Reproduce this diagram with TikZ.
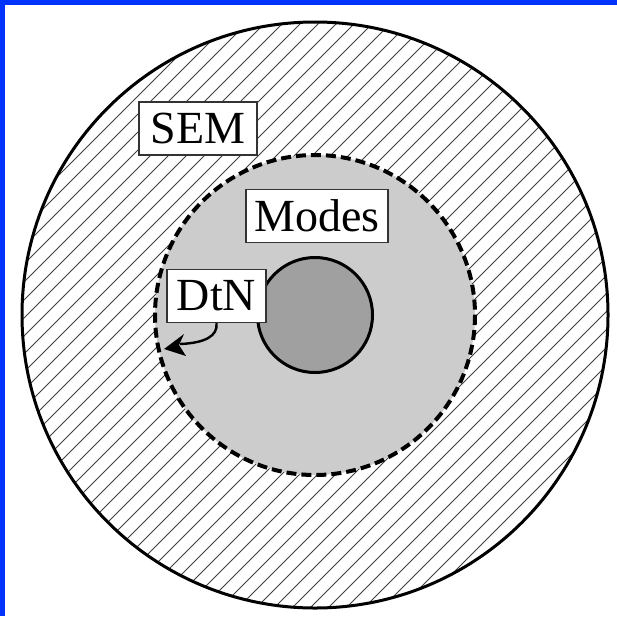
\documentclass[tikz,border=0pt]{standalone}
\usepackage{fontspec}
\setmainfont{Liberation Serif}
\usetikzlibrary{arrows.meta}
\definecolor{bluebar}{RGB}{0,51,255}
\definecolor{midgray}{RGB}{204,204,204}
\definecolor{coregray}{RGB}{160,160,160}
\tikzset{
  hatchline/.style={draw=black!75, line width=0.9pt},
  labelbox/.style={draw=black!80, line width=1.3pt, fill=white, inner sep=0pt,
    minimum height=53pt, font=\fontsize{46pt}{50pt}\selectfont},
  boundary/.style={draw=black, line width=3pt},
  dashbound/.style={draw=black, line width=4pt, dash pattern=on 10pt off 5pt},
  dtnarrow/.style={draw=black, line width=2.4pt},
  dtnhead/.style={fill=black}
}
\begin{document}
\begin{tikzpicture}[x=1pt,y=-1pt]
\useasboundingbox (0,0) rectangle (617,616);
\fill[white] (0,0) rectangle (617,616);
\fill[bluebar] (0,0) rectangle (617,5);
\fill[bluebar] (0,0) rectangle (5,616);
\coordinate (c) at (315,315);
% hatched SEM region
\begin{scope}
  \clip (c) circle[radius=293];
  \foreach \k in {0,18,...,1300} \draw[hatchline] (\k,0) -- ++(-660,660);
\end{scope}
\draw[boundary] (c) circle[radius=293];
% modes region
\fill[midgray] (c) circle[radius=160];
\draw[dashbound] (c) circle[radius=160];
% core
\filldraw[fill=coregray, boundary] (c) circle[radius=57.5];
% labels
\node[labelbox, minimum width=118pt] (sem) at (198,128.5) {SEM};
\node[labelbox, minimum width=142pt] (modes) at (317,216) {Modes};
\node[labelbox, minimum width=99pt] (dtn) at (216.5,296) {DtN};
\coordinate (tip) at (164,349);
\coordinate (headback) at (180,344);
\draw[dtnarrow] (dtn.south) .. controls (218,336) and (205,343) .. (headback);
\fill[dtnhead] (tip) -- (184,334) -- (179,345) -- (186,356) -- cycle;
\end{tikzpicture}
\end{document}
